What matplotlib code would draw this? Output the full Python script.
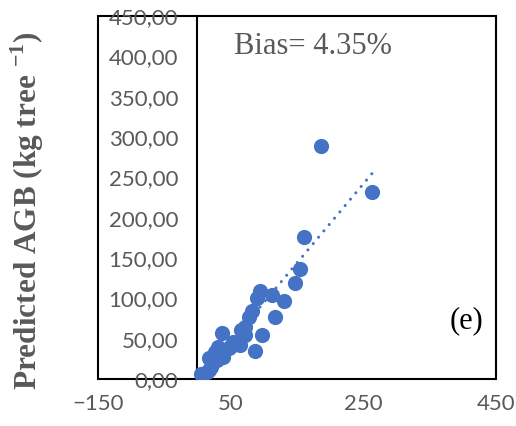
import numpy as np
import matplotlib.pyplot as plt
from matplotlib.patches import Rectangle

plt.rcParams["mathtext.fontset"] = "custom"
plt.rcParams["mathtext.rm"] = "Liberation Serif:bold"
plt.rcParams["mathtext.bf"] = "Liberation Serif:bold"

observed = [6, 14, 17, 20, 17, 29, 26, 31, 39, 37, 47, 49, 54, 64, 65, 69, 72,
            72, 77, 82, 86, 89, 94, 98, 112, 117, 131, 147, 155, 161, 186, 263]
predicted = [6, 9, 11, 15, 26, 24, 34, 40, 28, 57, 38, 40, 46, 42, 61, 57, 55,
             65, 77, 85, 35, 100, 109, 55, 104, 77, 97, 119, 136, 176, 289, 232]
# linear trendline as shown in the chart
trend_slope = 0.98
trend_intercept = -3
x_ticks = [-150, 50, 250, 450]
y_ticks = [0, 50, 100, 150, 200, 250, 300, 350, 400, 450]
bias_text = "Bias= 4.35%"
panel = "(e)"

blue = "#4472C4"
grey = "#595959"

fig = plt.figure(figsize=(5.16, 4.26), dpi=100)
ax = fig.add_axes([0.190, 0.110, 0.771, 0.852])

ax.scatter(observed, predicted, s=120, color=blue, zorder=3, linewidths=0)

xs = np.array([min(observed), max(observed)])
ax.plot(xs, trend_slope * xs + trend_intercept, color=blue, lw=2.2,
        linestyle=(0, (0.01, 2.7)), dash_capstyle="round", zorder=2)

ax.set_xlim(-150, 450)
ax.set_ylim(0, 450)
ax.set_xticks(x_ticks)
ax.set_yticks(y_ticks)
ax.set_yticklabels([f"{v:.2f}".replace(".", ",") for v in y_ticks])

# y axis crosses at x = 0 like Excel
for s in ["top", "right", "bottom"]:
    ax.spines[s].set_visible(False)
ax.spines["left"].set_position(("data", 0))
ax.spines["left"].set_linewidth(1.5)
ax.spines["left"].set_color("black")
ax.add_patch(Rectangle((0, 0), 1, 1, transform=ax.transAxes, fill=False,
                       lw=1.5, edgecolor="black", clip_on=False, zorder=1))

ax.tick_params(axis="both", length=0, labelsize=16, labelcolor=grey)
ax.tick_params(axis="y", pad=14)
ax.tick_params(axis="x", pad=11)
for lab in ax.get_xticklabels() + ax.get_yticklabels():
    lab.set_fontfamily("Lato")

ax.text(174, 413, bias_text, fontsize=22, family="Liberation Serif",
        color=grey, ha="center", va="center")
ax.text(406, 73, panel, fontsize=22, family="Liberation Serif",
        color="black", ha="center", va="center")

fig.text(0.052, 0.505, "Predicted AGB (kg tree $^{\\mathrm{-1}}$)", rotation=90,
         fontsize=22.5, family="Liberation Serif", fontweight="bold",
         color=grey, ha="center", va="center")

fig.savefig("out.png", dpi=100)
